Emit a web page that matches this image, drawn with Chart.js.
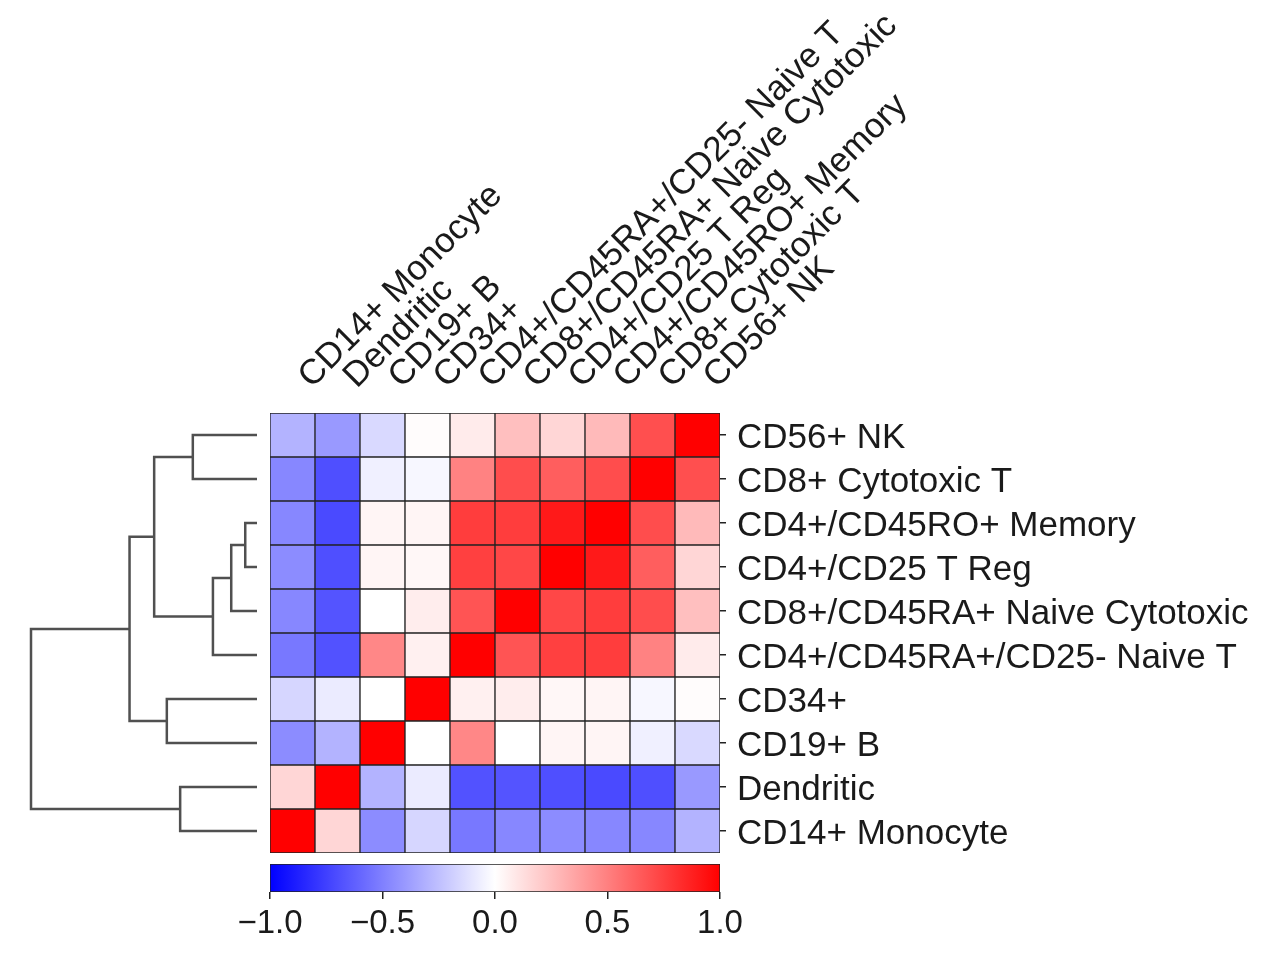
<!DOCTYPE html>
<html><head><meta charset="utf-8">
<script src="https://cdn.jsdelivr.net/npm/chart.js@4/dist/chart.umd.min.js"></script>
<style>
html,body{margin:0;padding:0;background:#fff;}
#wrap{position:relative;width:1261px;height:955px;overflow:hidden;}
canvas{position:absolute;}
</style></head><body>
<div id="wrap">
<canvas id="dendro" width="270" height="860" style="left:0;top:0;"></canvas>
<canvas id="heat" width="1261" height="860" style="left:0;top:0;"></canvas>
<canvas id="cbar" width="1261" height="95" style="left:0;top:860px;"></canvas>
</div>
<script>
// Leaf order (bottom row -> top row; also left column -> right column)
const cellTypes = [
  "CD14+ Monocyte", "Dendritic", "CD19+ B", "CD34+",
  "CD4+/CD45RA+/CD25- Naive T", "CD8+/CD45RA+ Naive Cytotoxic",
  "CD4+/CD25 T Reg", "CD4+/CD45RO+ Memory", "CD8+ Cytotoxic T", "CD56+ NK"
];
// Correlation values, one array per row, in the column order above
const corrMonocyte   = [1.00, 0.16, -0.45, -0.16, -0.53, -0.47, -0.45, -0.47, -0.47, -0.30];
const corrDendritic  = [0.16, 1.00, -0.30, -0.08, -0.68, -0.67, -0.69, -0.71, -0.69, -0.40];
const corrCD19B      = [-0.45, -0.30, 1.00, 0.00, 0.47, 0.00, 0.04, 0.04, -0.06, -0.15];
const corrCD34       = [-0.16, -0.08, 0.00, 1.00, 0.06, 0.07, 0.03, 0.04, -0.03, 0.01];
const corrNaiveT     = [-0.53, -0.68, 0.47, 0.06, 1.00, 0.67, 0.75, 0.76, 0.49, 0.08];
const corrNaiveCyto  = [-0.47, -0.67, 0.00, 0.07, 0.67, 1.00, 0.72, 0.76, 0.70, 0.25];
const corrTReg       = [-0.45, -0.69, 0.04, 0.03, 0.75, 0.72, 1.00, 0.90, 0.63, 0.16];
const corrMemory     = [-0.47, -0.71, 0.04, 0.04, 0.76, 0.76, 0.90, 1.00, 0.70, 0.27];
const corrCytoT      = [-0.47, -0.69, -0.06, -0.03, 0.49, 0.70, 0.63, 0.70, 1.00, 0.69];
const corrNK         = [-0.30, -0.40, -0.15, 0.01, 0.08, 0.25, 0.16, 0.27, 0.69, 1.00];
const corrRows = [corrMonocyte, corrDendritic, corrCD19B, corrCD34, corrNaiveT,
                  corrNaiveCyto, corrTReg, corrMemory, corrCytoT, corrNK];

// Hierarchical clustering linkage (node ids: leaves 0-9, merges 10+)
const linkLeft   = [6, 5, 4, 8, 2, 0, 12, 14, 15];
const linkRight  = [7, 10, 11, 9, 3, 1, 13, 16, 17];
const linkHeight = [0.052, 0.114, 0.195, 0.284, 0.399, 0.340, 0.455, 0.564, 1.000];

// Colorbar ticks
const cbarTicks = [-1.0, -0.5, 0.0, 0.5, 1.0];

function bwr(v) {
  v = Math.max(-1, Math.min(1, v));
  let r, g, b;
  if (v >= 0) { r = 255; g = b = Math.round(255 * (1 - v)); }
  else { b = 255; r = g = Math.round(255 * (1 + v)); }
  return `rgb(${r},${g},${b})`;
}

const FONT = "'Liberation Sans', Arial, Helvetica, sans-serif";
const TXT = '#1a1a1a';

// nudge axis labels to sit like the reference
const labelShift = {
  id: 'labelShift',
  afterLayout(chart) {
    const shifts = { x: [42, 6], y: [0, 3] };
    Object.keys(shifts).forEach(id => {
      const sc = chart.scales[id];
      if (!sc || sc._shiftWrapped) return;
      const orig = sc.drawLabels.bind(sc);
      sc.drawLabels = function (ca) {
        const c = chart.ctx;
        c.save(); c.translate(shifts[id][0], shifts[id][1]); orig(ca); c.restore();
      };
      sc._shiftWrapped = true;
    });
  }
};

// ---------- Heatmap ----------
const heatDatasets = corrRows.map((row, i) => ({
  label: cellTypes[i],
  data: row.map(() => 1),
  backgroundColor: row.map(v => bwr(v)),
  borderColor: '#222',
  borderWidth: 1,
  borderSkipped: false,
  barPercentage: 1.0,
  categoryPercentage: 1.0,
  stack: 's'
}));

new Chart(document.getElementById('heat'), {
  type: 'bar',
  data: { labels: cellTypes, datasets: heatDatasets },
  plugins: [labelShift],
  options: {
    responsive: false, animation: false,
    layout: { padding: { left: 270, right: 0, top: 0, bottom: 7 } },
    plugins: { legend: { display: false }, tooltip: { enabled: false } },
    scales: {
      x: {
        type: 'category', position: 'top', stacked: true, offset: true,
        grid: { display: false },
        border: { display: false },
        ticks: { autoSkip: false, minRotation: 45, maxRotation: 45, padding: 14,
                 color: TXT, font: { family: FONT, size: 35 } },
        afterFit: s => { s.height = 413; s.paddingLeft = 0; s.paddingRight = 0; }
      },
      y: {
        type: 'linear', position: 'right', stacked: true, min: 0, max: 10,
        afterBuildTicks: s => { s.ticks = cellTypes.map((_, i) => ({ value: i + 0.5 })); },
        ticks: { autoSkip: false, padding: 11, color: TXT, font: { family: FONT, size: 35 },
                 callback: (v) => cellTypes[Math.floor(v)] },
        grid: { drawOnChartArea: false, drawTicks: true, tickLength: 6, color: '#222', lineWidth: 1.5 },
        border: { display: false },
        afterFit: s => { s.width = 541; s.paddingTop = 0; s.paddingBottom = 0; }
      }
    }
  }
});

// ---------- Dendrogram ----------
const nodeX = [], nodeY = [];
cellTypes.forEach((_, i) => { nodeX[i] = 0; nodeY[i] = i + 0.5; });
const dendroDatasets = linkLeft.map((a, k) => {
  const b = linkRight[k], h = linkHeight[k];
  const ds = {
    data: [ { x: nodeX[a], y: nodeY[a] }, { x: h, y: nodeY[a] },
            { x: h, y: nodeY[b] }, { x: nodeX[b], y: nodeY[b] } ],
    showLine: true, pointRadius: 0, borderColor: '#505050', borderWidth: 2.5,
    tension: 0, fill: false, clip: false
  };
  nodeX[10 + k] = h; nodeY[10 + k] = (nodeY[a] + nodeY[b]) / 2;
  return ds;
});
const rootH = Math.max(...linkHeight);
new Chart(document.getElementById('dendro'), {
  type: 'scatter',
  data: { datasets: dendroDatasets },
  options: {
    responsive: false, animation: false,
    layout: { padding: { left: 0, right: 13, top: 413, bottom: 7 } },
    plugins: { legend: { display: false }, tooltip: { enabled: false } },
    scales: {
      x: { type: 'linear', reverse: true, min: 0, max: rootH * 257 / 226, display: false },
      y: { type: 'linear', min: 0, max: 10, display: false }
    }
  }
});

// ---------- Colorbar ----------
new Chart(document.getElementById('cbar'), {
  type: 'bar',
  data: { labels: ['cb'], datasets: [{
    data: [[cbarTicks[0], cbarTicks[cbarTicks.length - 1]]],
    backgroundColor: (ctx) => {
      const ca = ctx.chart.chartArea;
      if (!ca) return 'white';
      const g = ctx.chart.ctx.createLinearGradient(ca.left, 0, ca.right, 0);
      for (let i = 0; i <= 20; i++) { g.addColorStop(i / 20, bwr(-1 + i / 10)); }
      return g;
    },
    borderColor: '#222', borderWidth: 1, borderSkipped: false,
    barPercentage: 1.0, categoryPercentage: 1.0
  }] },
  options: {
    indexAxis: 'y', responsive: false, animation: false,
    layout: { padding: { left: 270, right: 541, top: 4, bottom: 0 } },
    plugins: { legend: { display: false }, tooltip: { enabled: false } },
    scales: {
      y: { display: false },
      x: {
        type: 'linear', position: 'bottom', min: -1, max: 1,
        afterBuildTicks: s => { s.ticks = cbarTicks.map(v => ({ value: v })); },
        ticks: { padding: 5, color: TXT, font: { family: FONT, size: 33 },
                 callback: v => (v < 0 ? '\u2212' : '') + Math.abs(v).toFixed(1) },
        grid: { drawOnChartArea: false, drawTicks: true, tickLength: 7, color: '#222', lineWidth: 1.5 },
        border: { display: false },
        afterFit: s => { s.height = 63; s.paddingLeft = 0; s.paddingRight = 0; }
      }
    }
  }
});
</script>
</body></html>
